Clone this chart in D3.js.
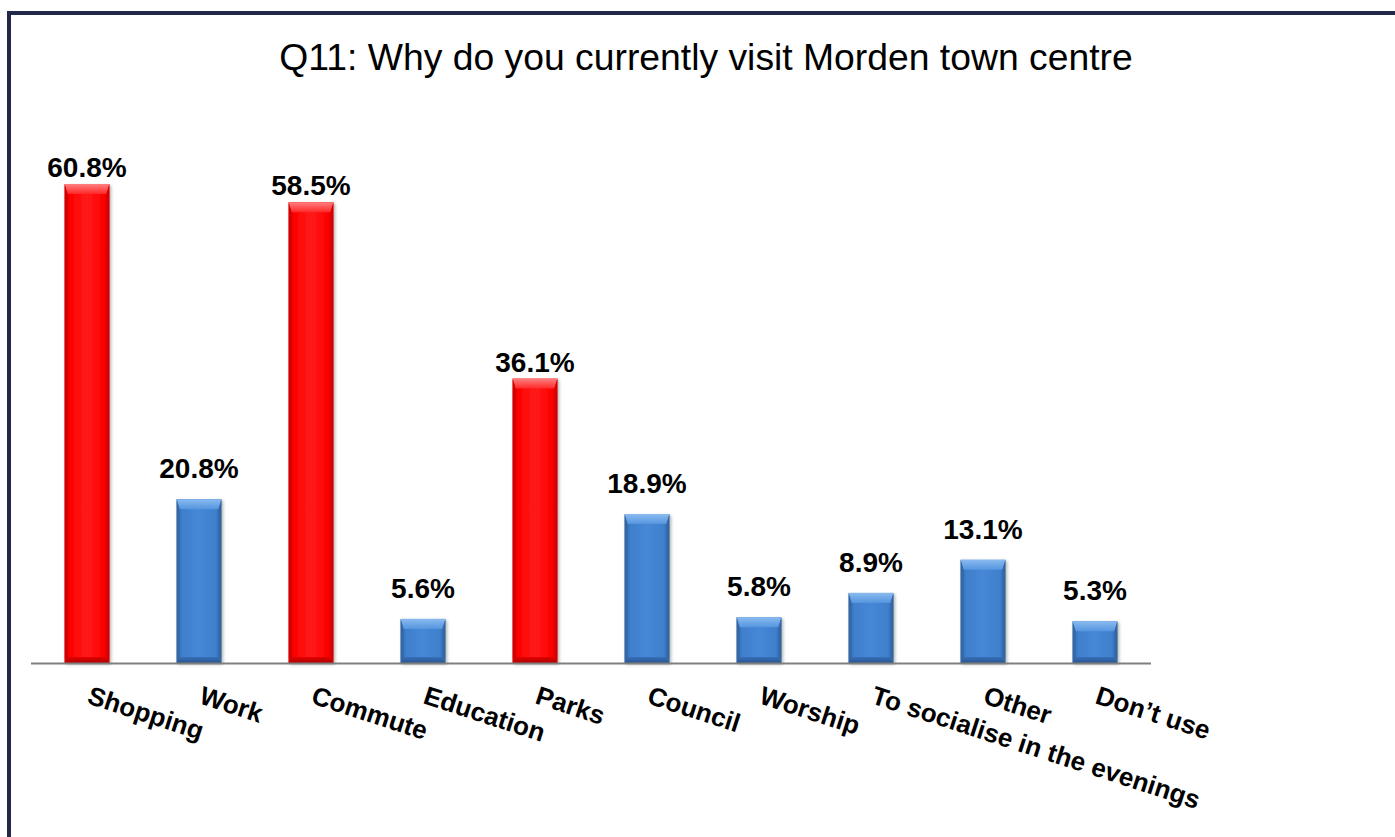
<!DOCTYPE html>
<html>
<head>
<meta charset="utf-8">
<script src="https://cdn.jsdelivr.net/npm/d3@7"></script>
<style>
  html, body { margin: 0; padding: 0; background: #ffffff; }
  svg { display: block; }
</style>
</head>
<body>
<script>
// Survey results: reasons for visiting Morden town centre
const titleText = "Q11: Why do you currently visit Morden town centre";
const categories = ["Shopping", "Work", "Commute", "Education", "Parks", "Council",
                    "Worship", "To socialise in the evenings", "Other", "Don\u2019t use"];
const percentages = [60.8, 20.8, 58.5, 5.6, 36.1, 18.9, 5.8, 8.9, 13.1, 5.3];
const highlighted = [true, false, true, false, true, false, false, false, false, false];

const W = 1395, H = 837;
const svg = d3.select("body").append("svg").attr("width", W).attr("height", H);

// frame (only top and left edges fall inside the view)
svg.append("line").attr("x1", 9).attr("y1", 13).attr("x2", W + 10).attr("y2", 13)
  .attr("stroke", "#222849").attr("stroke-width", 4);
svg.append("line").attr("x1", 9).attr("y1", 11).attr("x2", 9).attr("y2", H + 10)
  .attr("stroke", "#222849").attr("stroke-width", 4);

svg.append("text")
  .attr("x", 706).attr("y", 70)
  .attr("text-anchor", "middle")
  .attr("font-family", "Liberation Sans, Arial, sans-serif")
  .attr("font-size", 37.3)
  .attr("fill", "#000")
  .text(titleText);

const baseY = 663;
const x = d3.scaleBand().domain(categories).range([31, 1151]).paddingInner(0.6).paddingOuter(0.3);
const y = d3.scaleLinear().domain([0, 70]).range([baseY, baseY - 70 * 7.878]);

// gradients for the bevelled bar look
const defs = svg.append("defs");
const palettes = {
  red:  { edge: "#c40000", mid: "#ff0000", light: "#ff1a1a", top: ["#ff8080", "#ff2828"], bottom: ["#e00000", "#b00000"], side: "#d40000" },
  blue: { edge: "#2f61a3", mid: "#3f7fcc", light: "#4688d6", top: ["#8abbf0", "#5595df"], bottom: ["#3670b8", "#2a5690"], side: "#34679f" }
};
Object.entries(palettes).forEach(([k, p]) => {
  const g = defs.append("linearGradient").attr("id", "body-" + k).attr("x1", 0).attr("x2", 1).attr("y1", 0).attr("y2", 0);
  g.append("stop").attr("offset", 0).attr("stop-color", p.edge);
  g.append("stop").attr("offset", 0.12).attr("stop-color", p.mid);
  g.append("stop").attr("offset", 0.5).attr("stop-color", p.light);
  g.append("stop").attr("offset", 0.88).attr("stop-color", p.mid);
  g.append("stop").attr("offset", 1).attr("stop-color", p.edge);
  const t = defs.append("linearGradient").attr("id", "top-" + k).attr("x1", 0).attr("x2", 0).attr("y1", 0).attr("y2", 1);
  t.append("stop").attr("offset", 0).attr("stop-color", p.top[0]);
  t.append("stop").attr("offset", 1).attr("stop-color", p.top[1]);
  const b = defs.append("linearGradient").attr("id", "bot-" + k).attr("x1", 0).attr("x2", 0).attr("y1", 0).attr("y2", 1);
  b.append("stop").attr("offset", 0).attr("stop-color", p.bottom[0]);
  b.append("stop").attr("offset", 1).attr("stop-color", p.bottom[1]);
});
const shadow = defs.append("filter").attr("id", "shadow").attr("x", "-20%").attr("y", "-10%").attr("width", "140%").attr("height", "120%");
shadow.append("feDropShadow").attr("dx", 1.5).attr("dy", 1.5).attr("stdDeviation", 1.5).attr("flood-color", "#000").attr("flood-opacity", 0.3);

const data = categories.map((c, i) => ({ cat: c, v: percentages[i], hi: highlighted[i] }));

const bars = svg.append("g").selectAll("g").data(data).join("g")
  .attr("filter", "url(#shadow)");

bars.each(function(d) {
  const g = d3.select(this);
  const k = d.hi ? "red" : "blue";
  const x0 = x(d.cat), x1 = x0 + x.bandwidth();
  const y0 = y(d.v), y1 = y(0);
  const bt = 10, bb = 6, bs = 3;
  g.append("rect").attr("x", x0).attr("y", y0).attr("width", x1 - x0).attr("height", y1 - y0)
    .attr("fill", `url(#body-${k})`);
  g.append("polygon")
    .attr("points", [[x0, y0], [x1, y0], [x1 - bs, y0 + bt], [x0 + bs, y0 + bt]].join(" "))
    .attr("fill", `url(#top-${k})`);
  g.append("polygon")
    .attr("points", [[x0 + bs, y1 - bb], [x1 - bs, y1 - bb], [x1, y1], [x0, y1]].join(" "))
    .attr("fill", `url(#bot-${k})`);
  g.append("polygon")
    .attr("points", [[x0, y0], [x0 + bs, y0 + bt], [x0 + bs, y1 - bb], [x0, y1]].join(" "))
    .attr("fill", palettes[k].side).attr("opacity", 0.8);
  g.append("polygon")
    .attr("points", [[x1, y0], [x1 - bs, y0 + bt], [x1 - bs, y1 - bb], [x1, y1]].join(" "))
    .attr("fill", palettes[k].side).attr("opacity", 0.8);
});

// baseline axis
svg.append("line").attr("x1", 31).attr("x2", 1151).attr("y1", baseY + 0.5).attr("y2", baseY + 0.5)
  .attr("stroke", "#7f7f7f").attr("stroke-width", 2);

// value labels
svg.append("g").selectAll("text").data(data).join("text")
  .attr("x", d => x(d.cat) + x.bandwidth() / 2)
  .attr("y", d => y(d.v) - (d.hi ? 7 : 21))
  .attr("text-anchor", "middle")
  .attr("font-family", "Liberation Sans, Arial, sans-serif")
  .attr("font-weight", "bold")
  .attr("font-size", 28)
  .attr("fill", "#000")
  .text(d => d.v.toFixed(1) + "%");

// slanted category labels
svg.append("g").selectAll("text").data(data).join("text")
  .attr("transform", d => `translate(${x(d.cat) + x.bandwidth() / 2 - 1},${baseY + 40}) rotate(18)`)
  .attr("text-anchor", "start")
  .attr("font-family", "Liberation Sans, Arial, sans-serif")
  .attr("font-weight", "bold")
  .attr("font-size", 26)
  .attr("fill", "#000")
  .text(d => d.cat);
</script>
</body>
</html>
